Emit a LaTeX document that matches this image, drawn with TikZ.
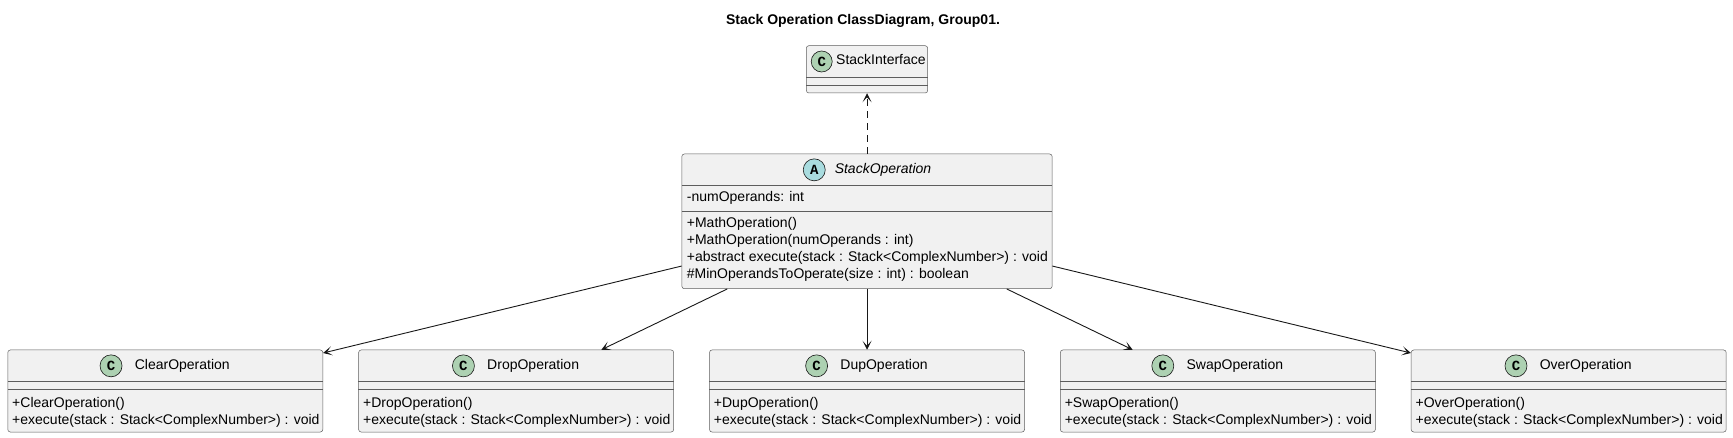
\documentclass[tikz,border=0pt]{standalone}
\usepackage{fontspec}
\setmainfont{Liberation Sans}
\newfontfamily\spotfont{Liberation Mono}
\usetikzlibrary{arrows.meta,positioning}
\definecolor{boxfill}{HTML}{F1F1F1}
\definecolor{boxline}{HTML}{181818}
\definecolor{cspot}{HTML}{ADD1B2}
\definecolor{aspot}{HTML}{A9DCDF}
\tikzset{
  classbox/.style={draw=boxline!70, fill=boxfill, rounded corners=2.5pt, line width=0.5pt, inner sep=0pt},
  sepline/.style={draw=boxline!70, line width=0.5pt},
  spot/.style={circle, draw=boxline, line width=0.6pt, minimum size=22pt, inner sep=0pt,
    font=\spotfont\bfseries\fontsize{14}{14}\selectfont},
  classname/.style={inner sep=0pt, text height=10pt, text depth=3pt, font=\fontsize{14}{16}\selectfont},
  member/.style={anchor=west, inner sep=0pt, text height=10pt, text depth=3pt, font=\fontsize{14}{16}\selectfont},
  diagtitle/.style={inner sep=0pt, font=\bfseries\fontsize{14}{16}\selectfont},
  extends/.style={-{Stealth[length=9pt, width=9pt, inset=5pt]}, line width=0.9pt, draw=boxline},
  implements/.style={extends, dash pattern=on 7pt off 5pt},
}
\begin{document}
\begin{tikzpicture}[x=1pt, y=-1pt]
  \fill[white] (0,0) rectangle (1733,438);
  \node[diagtitle] (title) at (863,21) {Stack Operation ClassDiagram, Group01.};

  % interface on top
  \node[classbox, minimum width=121.3pt, minimum height=47.3pt] (StackInterface) at (867,69.35) {};
  \node[spot, fill=cspot, minimum size=21pt] (si-spot) at (821.7,61.5) {C};
  \node[member, right=3.5pt of si-spot] (si-name) {StackInterface};
  \draw[sepline] (StackInterface.west |- 0,77.3) -- (StackInterface.east |- 0,77.3);
  \draw[sepline] (StackInterface.west |- 0,85.3) -- (StackInterface.east |- 0,85.3);

  % abstract class
  \node[classbox, minimum width=370.3pt, minimum height=134.7pt] (StackOperation) at (867,221.35) {};
  \node[classname, font=\fontsize{14}{16}\selectfont\itshape] (so-name) at (883,169.85) {StackOperation};
  \node[spot, fill=aspot, left=9pt of so-name] (so-spot) {A};
  \draw[sepline] (StackOperation.west |- 0,185.7) -- (StackOperation.east |- 0,185.7);
  \draw[sepline] (StackOperation.west |- 0,211) -- (StackOperation.east |- 0,211);
  \node[member] (so-attr) at (686.7,198.4) {-numOperands: int};
  \foreach \t [count=\k from 0] in {{+MathOperation()}, {+MathOperation(numOperands : int)},
      {+abstract execute(stack : Stack<ComplexNumber>) : void}, {\#MinOperandsToOperate(size : int) : boolean}}
    \node[member] (so-op\k) at (686.7, 224.5+16.8*\k) {\t};

  \draw[implements] (StackOperation) -- (StackInterface);

  % concrete operations
  \foreach \n [count=\i from 0] in {ClearOperation,DropOperation,DupOperation,SwapOperation,OverOperation} {
    \node[classbox, minimum width=315pt, minimum height=82pt] (\n) at (165.3+350.85*\i, 391) {};
    \node[classname] (\n-name) at (182.3+350.85*\i, 365.85) {\n};
    \node[spot, fill=cspot, left=12.3pt of \n-name] (\n-spot) {C};
    \draw[sepline] (\n.west |- 0,381.7) -- (\n.east |- 0,381.7);
    \draw[sepline] (\n.west |- 0,389.3) -- (\n.east |- 0,389.3);
    \node[member, xshift=4.5pt] (\n-op0) at (\n.west |- 0,404.3) {+\n()};
    \node[member, xshift=4.5pt] (\n-op1) at (\n.west |- 0,421) {+execute(stack : Stack<ComplexNumber>) : void};
    \draw[extends] (StackOperation) -- (\n);
  }
\end{tikzpicture}
\end{document}
